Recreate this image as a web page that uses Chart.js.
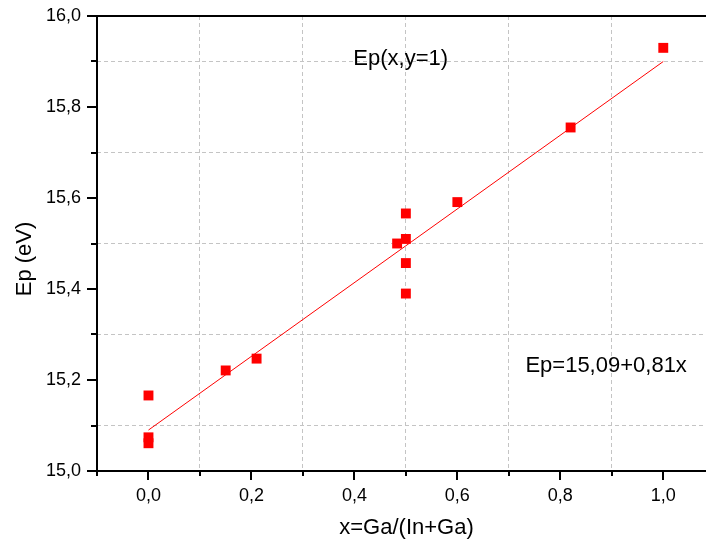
<!DOCTYPE html>
<html>
<head>
<meta charset="utf-8">
<script src="https://cdn.jsdelivr.net/npm/chart.js@4"></script>
<style>
    html, body { margin: 0; padding: 0; background: white; overflow: hidden; }
    canvas { display: block; }
</style>
</head>
<body>
<canvas id="myChart" width="706" height="543"></canvas>
<script>
const compX = [0, 0, 0, 0.15, 0.21, 0.483, 0.5, 0.5, 0.5, 0.5, 0.6, 0.82, 1.0];
const energies = [15.166, 15.074, 15.061, 15.221, 15.247, 15.500, 15.566, 15.510, 15.457, 15.390, 15.591, 15.755, 15.930];

const fitX = [0, 1];
const fitY = [15.09, 15.90];

const xTicks = [-0.1, 0, 0.1, 0.2, 0.3, 0.4, 0.5, 0.6, 0.7, 0.8, 0.9, 1.0];
const yTicks = [15.0, 15.1, 15.2, 15.3, 15.4, 15.5, 15.6, 15.7, 15.8, 15.9, 16.0];

const xTitle = 'x=Ga/(In+Ga)';
const yTitle = 'Ep (eV)';
const note1 = 'Ep(x,y=1)';
const note2 = 'Ep=15,09+0,81x';

const font = 'Arial, "Liberation Sans", sans-serif';

function isMajor(v) {
    return Math.round(v * 10) % 2 === 0;
}

function gridColor(ctx) {
    if (!ctx.tick) return 'transparent';
    const v = ctx.tick.value;
    if (isMajor(v) || Math.abs(v + 0.1) < 1e-6) return 'transparent';
    return '#c4c4c4';
}

const points = [];
for (let i = 0; i < compX.length; i++) {
    points.push({ x: compX[i], y: energies[i] });
}
const fitLine = fitX.map((x, i) => ({ x: x, y: fitY[i] }));

// axes, tick marks and texts
const extras = {
    id: 'extras',
    afterDatasetsDraw(chart) {
        const c = chart.ctx;
        const a = chart.chartArea;
        const xs = chart.scales.x;
        const ys = chart.scales.y;
        c.save();
        c.strokeStyle = 'black';
        c.lineWidth = 2;
        c.beginPath();
        c.moveTo(a.left, a.top);
        c.lineTo(a.right, a.top);
        c.moveTo(a.left, a.top);
        c.lineTo(a.left, a.bottom);
        c.lineTo(a.right, a.bottom);
        c.stroke();

        c.beginPath();
        for (let v of xTicks) {
            const px = Math.round(xs.getPixelForValue(v));
            const len = isMajor(v) ? 9 : 5;
            c.moveTo(px, a.bottom);
            c.lineTo(px, a.bottom + len);
        }
        for (let v of yTicks) {
            const py = Math.round(ys.getPixelForValue(v));
            const len = isMajor(v) ? 10 : 6;
            c.moveTo(a.left, py);
            c.lineTo(a.left - len, py);
        }
        c.stroke();

        c.fillStyle = 'black';
        c.font = '22px ' + font;
        c.textAlign = 'center';
        c.textBaseline = 'middle';
        c.fillText(note1, xs.getPixelForValue(0.49), ys.getPixelForValue(15.905));
        c.fillText(note2, xs.getPixelForValue(0.889), ys.getPixelForValue(15.23));
        c.fillText(xTitle, (a.left + a.right) / 2 + 5, 528);

        c.translate(25, 259);
        c.rotate(-Math.PI / 2);
        c.fillText(yTitle, 0, 0);
        c.restore();
    }
};

const ctx = document.getElementById('myChart').getContext('2d');
const myChart = new Chart(ctx, { //eslint-disable-line
    type: 'scatter',
    data: {
        datasets: [{
            label: 'fit',
            type: 'line',
            data: fitLine,
            borderColor: '#ff0000',
            borderWidth: 1,
            pointRadius: 0,
            fill: false
        },
        {
            label: 'Ep',
            data: points,
            pointStyle: 'rect',
            pointRadius: 7,
            backgroundColor: '#ff0000',
            borderWidth: 0
        }]
    },
    options: {
        responsive: false,
        animation: false,
        layout: {
            autoPadding: false,
            padding: { top: 16, right: 0, left: 0, bottom: 0 }
        },
        plugins: {
            legend: { display: false },
            tooltip: { enabled: false }
        },
        scales: {
            x: {
                type: 'linear',
                min: -0.1,
                max: 1.083,
                afterBuildTicks: (scale) => {
                    scale.ticks = xTicks.map(v => ({ value: v }));
                },
                afterFit: (scale) => {
                    scale.height = 72;
                    scale.paddingLeft = 0;
                    scale.paddingRight = 0;
                },
                ticks: {
                    padding: 14,
                    color: 'black',
                    font: { family: font, size: 18 },
                    maxRotation: 0,
                    autoSkip: false,
                    callback: (v) => isMajor(v) ? v.toFixed(1).replace('.', ',') : ''
                },
                grid: {
                    color: gridColor,
                    lineWidth: 1,
                    drawTicks: false
                },
                border: { display: false, dash: [4, 3] }
            },
            y: {
                min: 15,
                max: 16,
                afterBuildTicks: (scale) => {
                    scale.ticks = yTicks.map(v => ({ value: v }));
                },
                afterFit: (scale) => {
                    scale.width = 97;
                    scale.paddingTop = 0;
                    scale.paddingBottom = 0;
                },
                ticks: {
                    padding: 16,
                    color: 'black',
                    font: { family: font, size: 18 },
                    autoSkip: false,
                    callback: (v) => isMajor(v) ? v.toFixed(1).replace('.', ',') : ''
                },
                grid: {
                    color: gridColor,
                    lineWidth: 1,
                    drawTicks: false
                },
                border: { display: false, dash: [4, 3] }
            }
        }
    },
    plugins: [extras]
});
</script>
</body>
</html>
